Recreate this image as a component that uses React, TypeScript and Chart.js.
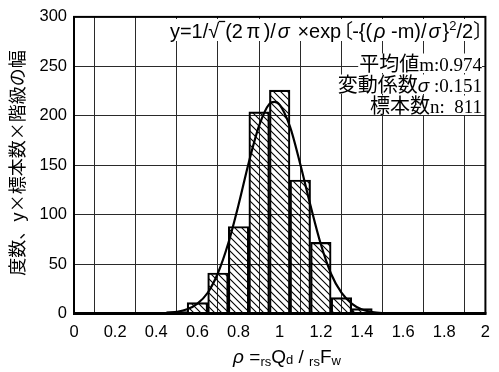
import React, { useEffect, useRef } from 'react';
import { Chart, registerables } from 'chart.js';

Chart.register(...registerables);

// ---- data ----
const binCenters = [0.5, 0.6, 0.7, 0.8, 0.9, 1.0, 1.1, 1.2, 1.3, 1.4, 1.5];
const binCounts = [2, 11, 41, 88, 204, 226, 135, 72, 16, 5, 1];

const curveX = [0.4, 0.45, 0.5, 0.55, 0.6, 0.65, 0.7, 0.75, 0.8, 0.85, 0.9, 0.95, 0.975, 1.0, 1.05, 1.1, 1.15, 1.2, 1.25, 1.3, 1.35, 1.4, 1.45, 1.5, 1.55, 1.6];
const curveY = [0.2, 0.5, 1.6, 4.2, 10, 21, 41, 71, 110, 153, 190, 212, 214, 211, 189, 151, 109, 70, 40, 21, 10, 4, 1.5, 0.5, 0.2, 0.05];

const xTickValues = [0, 0.2, 0.4, 0.6, 0.8, 1, 1.2, 1.4, 1.6, 1.8, 2];
const xTickLabels = ['0', '0.2', '0.4', '0.6', '0.8', '1', '1.2', '1.4', '1.6', '1.8', '2'];
const yTickValues = [0, 50, 100, 150, 200, 250, 300];
const yTickLabels = ['0', '50', '100', '150', '200', '250', '300'];

const yTitle = '度数、y×標本数×階級の幅';
const statLabels = ['平均値', '変動係数', '標本数'];
const statSymbols = ['m', 'σ', 'n'];
const statValues = [':0.974', ' :0.151', ':  811'];

const SANS = "'Liberation Sans', 'Noto Sans CJK JP', sans-serif";
const CJK = "'Noto Sans CJK JP', sans-serif";
const SERIF = "'Liberation Serif', serif";

type Run = { t: string; font: string; dy?: number; gap?: number; overline?: boolean };

function runsWidth(ctx: CanvasRenderingContext2D, runs: Run[]) {
  return runs.map((r) => {
    if (r.gap !== undefined) return r.gap;
    ctx.font = r.font;
    return ctx.measureText(r.t).width;
  });
}

function drawRuns(ctx: CanvasRenderingContext2D, runs: Run[], startX: number, baseline: number, ws: number[]) {
  let x = startX;
  runs.forEach((r, i) => {
    if (r.gap !== undefined) {
      if (r.overline) {
        ctx.save();
        ctx.strokeStyle = '#000';
        ctx.lineWidth = 1.3;
        ctx.beginPath();
        ctx.moveTo(x - 0.5, baseline - 16);
        ctx.lineTo(x + r.gap, baseline - 16);
        ctx.stroke();
        ctx.restore();
      }
    } else if (r.t) {
      ctx.font = r.font;
      ctx.fillText(r.t, x, baseline + (r.dy || 0));
    }
    x += ws[i];
  });
}

const textPlugin = {
  id: 'textPlugin',
  beforeDatasetsDraw(chart: any) {
    const ctx: CanvasRenderingContext2D = chart.ctx;
    ctx.save();
    ctx.textBaseline = 'alphabetic';
    ctx.textAlign = 'left';
    const right = 482;
    const centers = [63, 84, 105];
    statLabels.forEach((lab, i) => {
      const runs: Run[] = [
        { t: lab, font: `20px ${CJK}` },
        i === 1 ? { t: statSymbols[i], font: `italic 19px ${SANS}` } : { t: statSymbols[i], font: `19px ${SERIF}` },
        { t: statValues[i], font: `19px ${SERIF}` },
      ];
      const ws = runsWidth(ctx, runs);
      const total = ws.reduce((a, b) => a + b, 0);
      const sx = right - total;
      ctx.fillStyle = '#fff';
      ctx.fillRect(sx - 1, centers[i] - 9.5, total + 1, 19.5);
      ctx.fillStyle = '#000';
      drawRuns(ctx, runs, sx, centers[i] + 7.5, ws);
    });

    // formula
    const f = 20;
    const g = 3.5;
    const fruns: Run[] = [
      { t: 'y=1/√', font: `${f}px ${SANS}` },
      { t: '', font: '', gap: 6, overline: true },
      { t: '(2', font: `${f}px ${SANS}` },
      { t: '', font: '', gap: g },
      { t: 'π', font: `${f}px ${SANS}` },
      { t: '', font: '', gap: g },
      { t: ')/', font: `${f}px ${SANS}` },
      { t: '', font: '', gap: 2 },
      { t: 'σ', font: `italic ${f}px ${SANS}` },
      { t: '', font: '', gap: 2 },
      { t: ' ×exp', font: `${f}px ${SANS}` },
      { t: '', font: '', gap: -8 },
      { t: '〔', font: `${f}px ${CJK}` },
      { t: '', font: '', gap: -1 },
      { t: '-{(', font: `${f}px ${SANS}` },
      { t: '', font: '', gap: 2 },
      { t: 'ρ', font: `italic ${f}px ${SANS}` },
      { t: ' -m)/', font: `${f}px ${SANS}` },
      { t: '', font: '', gap: 2 },
      { t: 'σ', font: `italic ${f}px ${SANS}` },
      { t: '', font: '', gap: 2 },
      { t: '}', font: `${f}px ${SANS}` },
      { t: '2', font: `13px ${SANS}`, dy: -8 },
      { t: '/2', font: `${f}px ${SANS}` },
      { t: '〕', font: `${f}px ${CJK}` },
    ];
    const fw = runsWidth(ctx, fruns);
    const ftot = fw.reduce((a, b) => a + b, 0) - fw[fw.length - 1] * 0.5;
    const target = 313;
    const sc = Math.max(0.8, Math.min(1.2, target / ftot));
    ctx.fillStyle = '#fff';
    ctx.fillRect(168, 19, 318, 22);
    ctx.fillStyle = '#000';
    ctx.save();
    ctx.translate(170, 0);
    ctx.scale(sc, 1);
    drawRuns(ctx, fruns, 0, 37.5, fw);
    ctx.restore();
    ctx.restore();
  },
  afterDatasetsDraw(chart: any) {
    const ctx: CanvasRenderingContext2D = chart.ctx;
    const a = chart.chartArea;
    ctx.save();
    ctx.strokeStyle = '#000';
    ctx.lineWidth = 2;
    ctx.strokeRect(a.left, a.top, a.right - a.left, a.bottom - a.top);
    ctx.lineWidth = 3;
    ctx.beginPath();
    ctx.moveTo(a.left - 1, a.bottom);
    ctx.lineTo(a.right + 1, a.bottom);
    ctx.stroke();

    // y title
    ctx.fillStyle = '#000';
    ctx.save();
    ctx.translate(17, 163);
    ctx.rotate(-Math.PI / 2);
    ctx.textAlign = 'center';
    ctx.textBaseline = 'middle';
    ctx.font = `18px ${CJK}`;
    ctx.fillText(yTitle, 0, 0);
    ctx.restore();

    // x title
    ctx.textAlign = 'left';
    ctx.textBaseline = 'alphabetic';
    const xr: Run[] = [
      { t: 'ρ', font: `italic 19px ${SANS}` },
      { t: ' =', font: `19px ${SANS}` },
      { t: 'rs', font: `13px ${SANS}`, dy: 3 },
      { t: 'Q', font: `19px ${SANS}` },
      { t: 'd', font: `13px ${SANS}`, dy: 1 },
      { t: ' / ', font: `19px ${SANS}` },
      { t: 'rs', font: `13px ${SANS}`, dy: 3 },
      { t: 'F', font: `19px ${SANS}` },
      { t: 'w', font: `13px ${SANS}`, dy: 2 },
    ];
    const xw = runsWidth(ctx, xr);
    const xt = xw.reduce((p, q) => p + q, 0);
    drawRuns(ctx, xr, 287 - xt / 2, 363, xw);
    ctx.restore();
  },
};

export default function App() {
  const ref = useRef<HTMLCanvasElement | null>(null);
  useEffect(() => {
    document.body.style.margin = '0';
    const canvas = ref.current!;
    const ctx = canvas.getContext('2d')!;
    const pc = document.createElement('canvas');
    pc.width = 7;
    pc.height = 7;
    const pg = pc.getContext('2d')!;
    pg.strokeStyle = '#000';
    pg.lineWidth = 1.1;
    pg.beginPath();
    pg.moveTo(-1, -1);
    pg.lineTo(8, 8);
    pg.moveTo(-1, 6);
    pg.lineTo(1, 8);
    pg.moveTo(6, -1);
    pg.lineTo(8, 1);
    pg.stroke();
    const hatch = ctx.createPattern(pc, 'repeat')!;

    const chart = new Chart(canvas, {
      type: 'bar',
      data: {
        datasets: [
          {
            type: 'line',
            data: curveX.map((x, i) => ({ x, y: curveY[i] })),
            borderColor: '#000',
            borderWidth: 2.2,
            pointRadius: 0,
            cubicInterpolationMode: 'monotone',
            fill: false,
            order: 0,
          } as any,
          {
            type: 'bar',
            data: binCenters.map((x, i) => ({ x, y: binCounts[i] })),
            backgroundColor: hatch,
            borderColor: '#000',
            borderWidth: 1.5,
            borderSkipped: 'start',
            barPercentage: 1,
            categoryPercentage: 1,
            order: 1,
          } as any,
        ],
      },
      options: {
        responsive: false,
        animation: false,
        layout: { padding: { top: 13, right: 3.5, left: 0, bottom: 0 } },
        plugins: { legend: { display: false }, tooltip: { enabled: false }, title: { display: false } },
        scales: {
          x: {
            type: 'linear',
            min: 0,
            max: 2,
            offset: false,
            afterBuildTicks: (s: any) => {
              s.ticks = xTickValues.map((v) => ({ value: v }));
            },
            afterFit: (s: any) => {
              s.height = 58.5;
            },
            grid: { color: '#2a2a2a', lineWidth: 1, drawTicks: false },
            border: { display: false },
            ticks: {
              padding: 9,
              color: '#000',
              maxRotation: 0,
              autoSkip: false,
              font: { family: "'Liberation Sans'", size: 16.5 },
              callback: (_v: any, i: number) => xTickLabels[i],
            },
          },
          y: {
            type: 'linear',
            min: 0,
            max: 300,
            afterBuildTicks: (s: any) => {
              s.ticks = yTickValues.map((v) => ({ value: v }));
            },
            afterFit: (s: any) => {
              s.width = 74;
            },
            grid: { color: '#2a2a2a', lineWidth: 1, drawTicks: false },
            border: { display: false },
            ticks: {
              padding: 7,
              color: '#000',
              font: { family: "'Liberation Sans'", size: 16.5 },
              callback: (_v: any, i: number) => yTickLabels[i],
            },
          },
        },
      },
      plugins: [textPlugin],
    } as any);
    return () => chart.destroy();
  }, []);
  return <canvas ref={ref} width={499} height={372} style={{ display: 'block' }} />;
}
